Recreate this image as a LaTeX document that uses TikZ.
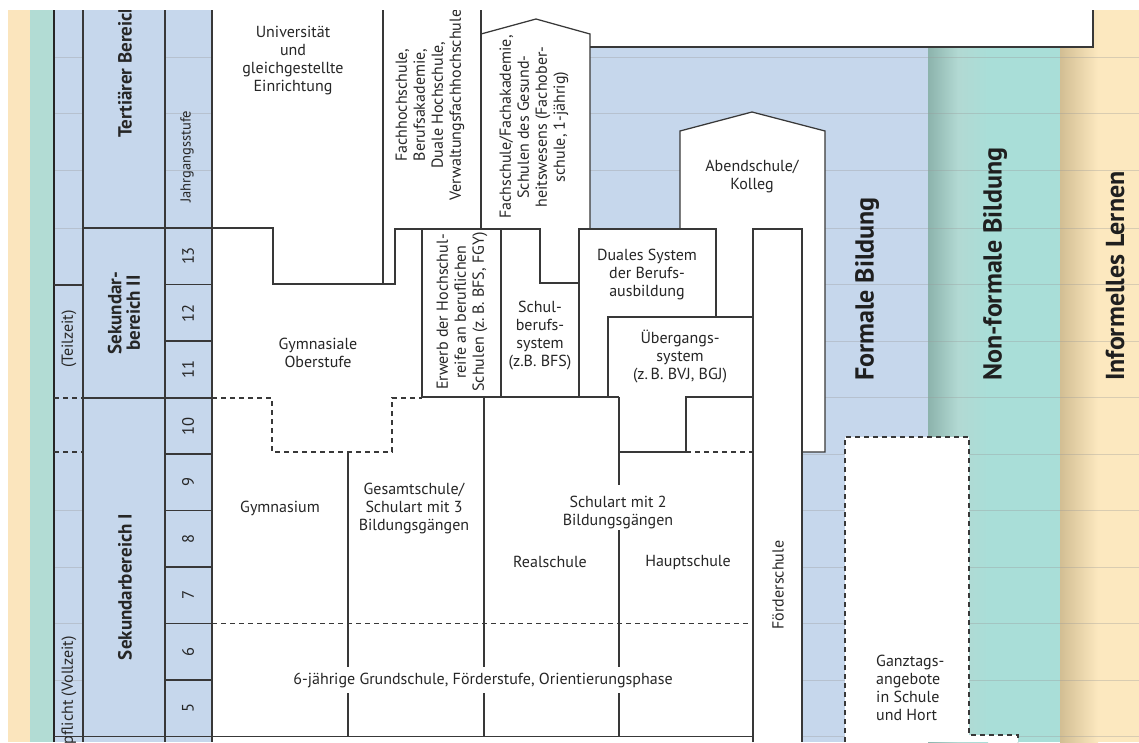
\documentclass[tikz,border=0pt]{standalone}
\usepackage{fontspec}
\setmainfont{PT Sans}
\definecolor{fblue}{HTML}{C6D7EC}
\definecolor{fteal}{HTML}{A9DED8}
\definecolor{fteald}{HTML}{8CB3AC}
\definecolor{ftealm}{HTML}{B2D9D3}
\definecolor{fbeige}{HTML}{FCE8BF}
\definecolor{fbeiged}{HTML}{D2BE93}
\definecolor{lteal}{HTML}{B2DCD4}
\definecolor{lbeige}{HTML}{FBE5BD}
\definecolor{ln}{HTML}{383838}
\definecolor{txt}{HTML}{262626}
\begin{document}
\begin{tikzpicture}[x=1pt,y=-1pt]
\tikzset{
  lbl/.style={align=center, text=txt, font=\fontsize{16}{18}\selectfont, inner sep=0pt},
  hdr/.style={align=center, text=txt, font=\fontsize{19}{18.5}\selectfont\bfseries, inner sep=0pt},
  big/.style={text=black!88, font=\fontsize{26}{28}\selectfont\bfseries, inner sep=0pt},
  num/.style={text=txt, font=\fontsize{16.5}{18}\selectfont, inner sep=0pt, rotate=90},
  bline/.style={draw=ln, line width=1.25pt},
  dline/.style={draw=ln, line width=1.25pt, dash pattern=on 5pt off 4pt},
  faint/.style={draw=black!40, line width=0.9pt, opacity=0.35},
}
\useasboundingbox (0,0) rectangle (1139,742);
\fill[white] (0,0) rectangle (1139,742);
\begin{scope}
\clip (8,10) rectangle (1139,742);
% ---------- backgrounds ----------
\fill[lbeige] (8,10) rectangle (30,742);
\fill[lteal] (30,10) rectangle (54,742);
\fill[fblue] (54,10) rectangle (212,742);
\fill[fblue] (590,10) rectangle (928,742);
\fill[fteal] (928,10) rectangle (1060,742);
\shade[left color=fteald, right color=ftealm] (928,10) rectangle (958,742);
\shade[left color=ftealm, right color=fteal] (958,10) rectangle (988,742);
\fill[fbeige] (1060,10) rectangle (1139,742);
\shade[left color=fbeiged, right color=fbeige] (1060,10) rectangle (1098,742);
% faint grid lines
\foreach \yy in {57,113,170,228,284.5,341,397.5,454,510.5,567,623.5,680,736.5}
  \draw[faint] (590,\yy) -- (1139,\yy);
\foreach \yy in {57,113,170}
  \draw[faint] (165,\yy) -- (212,\yy);
\foreach \yy in {57,113,170,228,510.5,567,623.5,680}
  \draw[faint] (54,\yy) -- (83,\yy);
% ---------- white areas ----------
\fill[white] (212,0) -- (1093,0) -- (1093,47) -- (590,47) -- (590,229) -- (680,229)
  -- (680,131) -- (752,112) -- (825,131) -- (825,452) -- (802,452) -- (802,742)
  -- (212,742) -- cycle;
\fill[white] (845,437) rectangle (969,742);
\fill[white] (969,735) rectangle (1018,742);
% ---------- left columns ----------
\draw[line width=1.6pt, draw=black!85] (54,10) -- (54,742);
\draw[bline] (83,10) -- (83,742);
\draw[bline] (165,10) -- (165,742);
\draw[bline] (212,10) -- (212,742);
\draw[bline] (83,228) -- (212,228);
\draw[bline] (83,398) -- (212,398);
\draw[bline] (54,285) -- (83,285);
\draw[dline] (54,398) -- (83,398);
\draw[dline] (54,452) -- (83,452);
\foreach \yy in {284.5,341,454,510.5,567,623.5,680}
  \draw[bline] (165,\yy) -- (212,\yy);
\draw[bline] (54,736.5) -- (753,736.5);
% ---------- top boxes ----------
\draw[bline] (590,47) -- (1093,47) -- (1093,10);
\draw[bline] (383,10) -- (383,284);
\draw[bline] (481,10) -- (481,229);
\draw[bline] (481,34) -- (536,19) -- (590,34) -- (590,229);
% Gymnasiale Oberstufe outline
\draw[bline] (212,228) -- (273,228) -- (273,284) -- (395,284) -- (395,229) -- (540,229) -- (540,283) -- (579,283);
% Erwerb box
\draw[bline] (422,229) -- (422,397);
\draw[line width=1.8pt, draw=ln] (501,229) -- (501,397);
% Duales System
\draw[bline] (579,397) -- (579,229) -- (716,229) -- (716,317);
% Uebergang
\draw[bline] (608,397) -- (608,317) -- (753,317);
\draw[bline] (422,397) -- (619,397);
\draw[bline] (619,452) -- (686,452) -- (686,397) -- (753,397);
\draw[dline] (686,452) -- (753,452);
% dashed Gymnasium step
\draw[dline] (212,398) -- (272,398) -- (272,452) -- (392,452) -- (392,398) -- (422,398);
% Sekundarbereich I dividers
\draw[bline] (348,452) -- (348,667);
\draw[bline] (348,693) -- (348,736.5);
\draw[bline] (484,397) -- (484,667);
\draw[bline] (484,693) -- (484,736.5);
\draw[bline] (619,397) -- (619,485);
\draw[bline] (619,530) -- (619,667);
\draw[bline] (619,693) -- (619,736.5);
\draw[dline] (212,623.5) -- (753,623.5);
% Foerderschule
\draw[bline] (753,742) -- (753,229) -- (802,229) -- (802,742);
% Abendschule
\draw[bline] (680,229) -- (680,131) -- (752,112) -- (825,131) -- (825,452) -- (802,452);
% Ganztags
\draw[dline] (845,742) -- (845,437) -- (969,437) -- (969,735) -- (1018,735) -- (1018,742);
% ---------- texts: left columns ----------
\node[hdr, rotate=90, anchor=west] (tert) at (125,138) {Tertiärer Bereich};
\node[hdr, rotate=90] (sek2) at (124,313) {Sekundar-\\bereich II};
\node[hdr, rotate=90] (sek1) at (125,587) {Sekundarbereich I};
\node[lbl, rotate=90, font=\fontsize{14.5}{16}\selectfont] (jgs) at (187,157) {Jahrgangsstufe};
\node[lbl, rotate=90] (teil) at (69,339) {(Teilzeit)};
\node[lbl, rotate=90, anchor=east] (voll) at (69,636) {Schulpflicht (Vollzeit)};
\node[num] (n13) at (188,256) {13};
\node[num] (n12) at (188,313) {12};
\node[num] (n11) at (188,369) {11};
\node[num] (n10) at (188,426) {10};
\node[num] (n9) at (188,482) {9};
\node[num] (n8) at (188,539) {8};
\node[num] (n7) at (188,595) {7};
\node[num] (n6) at (188,652) {6};
\node[num] (n5) at (188,708) {5};
% ---------- texts: boxes ----------
\node[lbl] (uni) at (293,61) {Universität\\und\\gleichgestellte\\Einrichtung};
\node[lbl, rotate=90] (fh) at (430,105) {Fachhochschule,\\Berufsakademie,\\Duale Hochschule,\\Verwaltungsfachhochschule};
\node[lbl, rotate=90] (fs) at (534,127) {Fachschule/Fachakademie,\\Schulen des Gesund-\\heitswesens (Fachober-\\schule, 1-jährig)};
\node[lbl, rotate=90] (erw) at (462,312) {Erwerb der Hochschul-\\reife an beruflichen\\Schulen (z.\,B. BFS, FGY)};
\node[lbl] (gymo) at (318,353) {Gymnasiale\\Oberstufe};
\node[lbl] (sbs) at (540,336) {Schul-\\berufs-\\system\\(z.B. BFS)};
\node[lbl] (dual) at (647,274) {Duales System\\der Berufs-\\ausbildung};
\node[lbl] (ueb) at (680,357) {Übergangs-\\system\\(z.\,B. BVJ, BGJ)};
\node[lbl] (abend) at (752,176) {Abendschule/\\Kolleg};
\node[lbl] (gym) at (280,508) {Gymnasium};
\node[lbl] (ges) at (414,508) {Gesamtschule/\\Schulart mit 3\\Bildungsgängen};
\node[lbl] (sa2) at (618,512) {Schulart mit 2\\Bildungsgängen};
\node[lbl] (real) at (550,562) {Realschule};
\node[lbl] (haupt) at (688,562) {Hauptschule};
\node[lbl] (grund) at (483,680) {6-jährige Grundschule, Förderstufe, Orientierungsphase};
\node[lbl, rotate=90] (foerd) at (778,585) {Förderschule};
\node[lbl, align=left, anchor=west] (ganz) at (876,688) {Ganztags-\\angebote\\in Schule\\und Hort};
% ---------- big headings ----------
\node[big, rotate=90, anchor=west] (formal) at (867,381) {Formale Bildung};
\node[big, rotate=90, anchor=west] (nonformal) at (995,381) {Non-formale Bildung};
\node[big, rotate=90, anchor=west] (informell) at (1115,381) {Informelles Lernen};
\end{scope}
\end{tikzpicture}
\end{document}
